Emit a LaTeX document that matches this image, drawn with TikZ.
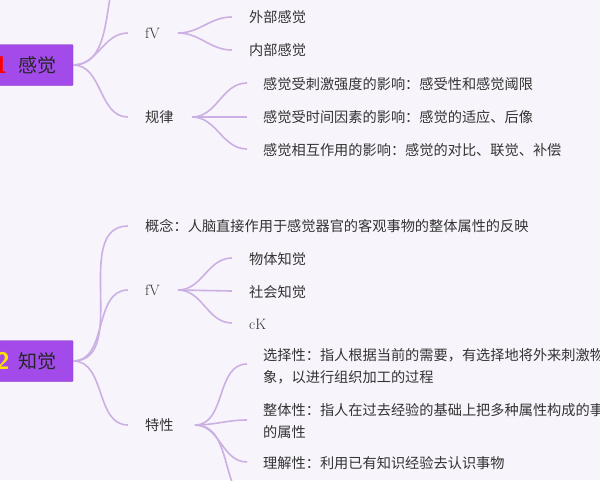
\documentclass[tikz,border=0pt]{standalone}
\usepackage{fontspec}
\newfontfamily\cjk{Noto Sans CJK SC}
\usetikzlibrary{positioning}
\definecolor{bgcol}{HTML}{F7F4FB}
\definecolor{topcol}{HTML}{A24BEA}
\definecolor{linecol}{HTML}{CBB0E3}
\definecolor{txtcol}{HTML}{333333}
\tikzset{
  topic/.style={fill=topcol, draw=topcol!80!black, line width=0.4pt, rounded corners=1pt, minimum height=41pt, minimum width=82pt, inner sep=0pt},
  title/.style={inner sep=0pt, font=\fontsize{19}{22}\selectfont\cjk, text=black!85},
  num/.style={inner sep=0pt, font=\fontsize{24}{24}\selectfont\bfseries\sffamily},
  leaf/.style={anchor=west, inner sep=2pt, font=\fontsize{14.2}{22}\selectfont\cjk, text=txtcol, align=left},
  latin/.style={anchor=west, inner sep=2pt, font=\fontsize{15}{16}\selectfont, text=txtcol},
  branch/.style={draw=linecol, line width=1.6pt}
}
\begin{document}
\begin{tikzpicture}[x=1pt,y=-1pt]
  \fill[bgcol] (0,0) rectangle (600,480);
  \useasboundingbox (0,0) rectangle (600,480);

  % 感觉
  \node[topic] (t1) at (32,65) {};
  \node[num, text=red] (n1) at (1,65) {1};
  \node[title] (h1) at (38,65) {感觉};
  \node[latin] (fv1) at (143,33) {fV};
  \node[leaf] (gl) at (143,117) {规律};
  \coordinate (up1) at (110,-2);
  \node[leaf] (wb) at (247,17) {外部感觉};
  \node[leaf] (nb) at (247,50) {内部感觉};
  \node[leaf] (gl1) at (261,84) {感觉受刺激强度的影响：感受性和感觉阈限};
  \node[leaf] (gl2) at (261,117) {感觉受时间因素的影响：感觉的适应、后像};
  \node[leaf] (gl3) at (261,150) {感觉相互作用的影响：感觉的对比、联觉、补偿};

  \draw[branch] (t1.east) to[out=0,in=-100] (up1);
  \draw[branch] (t1.east) to[out=0,in=180] (128,33);
  \draw[branch] (t1.east) to[out=0,in=180] (128,117);
  \draw[branch] (178,33) to[out=0,in=180] (232,17);
  \draw[branch] (178,33) to[out=0,in=180] (232,50);
  \draw[branch] (192,117) to[out=0,in=180] (247,83);
  \draw[branch] (192,117) -- (247,117);
  \draw[branch] (192,117) to[out=0,in=180] (247,149);

  % 知觉
  \node[topic] (t2) at (32,361) {};
  \node[num, text=yellow!85!orange] (n2) at (3,361) {2};
  \node[title] (h2) at (38,361) {知觉};
  \node[leaf] (gn) at (143,226) {概念：人脑直接作用于感觉器官的客观事物的整体属性的反映};
  \node[latin] (fv2) at (143,290) {fV};
  \node[leaf] (tx) at (143,425) {特性};
  \node[leaf] (wt) at (247,259) {物体知觉};
  \node[leaf] (sh) at (247,292) {社会知觉};
  \node[latin] (ck) at (247,324) {cK};
  \node[leaf] (xz) at (261,366) {选择性：指人根据当前的需要，有选择地将外来刺激物作为知觉对\\象，以进行组织加工的过程};
  \node[leaf] (zt) at (261,421) {整体性：指人在过去经验的基础上把多种属性构成的事物知觉为统一\\的属性};
  \node[leaf] (lj) at (261,463) {理解性：利用已有知识经验去认识事物};
  \coordinate (dn2) at (232,482);

  \draw[branch] (t2.east) to[out=0,in=180] (128,226);
  \draw[branch] (t2.east) to[out=0,in=180] (128,290);
  \draw[branch] (t2.east) to[out=0,in=180] (128,425);
  \draw[branch] (178,290) to[out=0,in=180] (232,258);
  \draw[branch] (178,290) -- (232,291);
  \draw[branch] (178,290) to[out=0,in=180] (232,323);
  \draw[branch] (195,425) to[out=0,in=180] (247,364);
  \draw[branch] (195,425) to[out=0,in=180] (247,420);
  \draw[branch] (195,425) to[out=0,in=180] (247,462);
  \draw[branch] (195,425) to[out=0,in=110] (dn2);
\end{tikzpicture}
\end{document}
